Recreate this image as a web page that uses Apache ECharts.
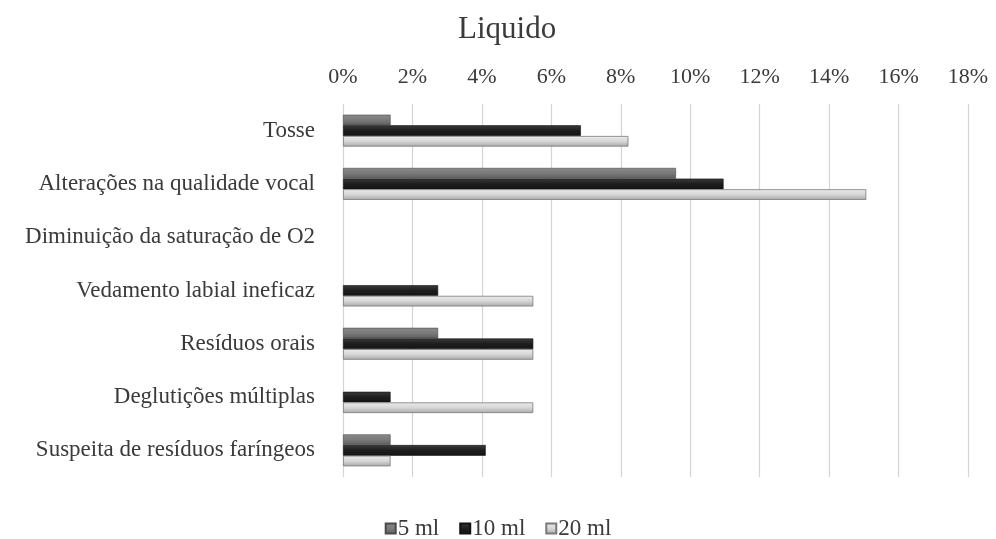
<!DOCTYPE html>
<html>
<head>
<meta charset="utf-8">
<script src="https://cdn.jsdelivr.net/npm/echarts@6/dist/echarts.min.js"></script>
<style>
  html, body { margin: 0; padding: 0; background: #ffffff; }
  #chart { width: 996px; height: 539px; }
</style>
</head>
<body>
<div id="chart"></div>
<script>
// Sinais observados com consistência líquida, por volume ofertado (%)
const categories = [
  'Tosse',
  'Alterações na qualidade vocal',
  'Diminuição da saturação de O2',
  'Vedamento labial ineficaz',
  'Resíduos orais',
  'Deglutições múltiplas',
  'Suspeita de resíduos faríngeos'
];
const seriesNames = ['5 ml', '10 ml', '20 ml'];
const values5ml  = [1.37, 9.59, 0, 0,    2.74, 0,    1.37];
const values10ml = [6.85, 10.96, 0, 2.74, 5.48, 1.37, 4.11];
const values20ml = [8.22, 15.07, 0, 5.48, 5.48, 5.48, 1.37];
const axisMin = 0, axisMax = 18, axisStep = 2;

const FONT = '"Liberation Serif", "Times New Roman", serif';
const TEXT = '#3a3a3a';

function grad(top, mid, bottom) {
  return new echarts.graphic.LinearGradient(0, 0, 0, 1, [
    { offset: 0, color: top },
    { offset: 0.5, color: mid },
    { offset: 1, color: bottom }
  ]);
}

const styles = [
  { color: grad('#8a8a8a', '#7a7a7a', '#5e5e5e'), borderColor: '#4a4a4a', borderWidth: 0.6 },
  { color: grad('#3a3a3a', '#1e1e1e', '#141414'), borderColor: '#111111', borderWidth: 0.6 },
  { color: grad('#ececec', '#d6d6d6', '#a8a8a8'), borderColor: '#7a7a7a', borderWidth: 0.8 }
];

// zero-length bars get no outline so nothing is drawn for them
function toData(arr) {
  return arr.map(v => v === 0 ? { value: 0, itemStyle: { borderWidth: 0 } } : v);
}

const allValues = [values5ml, values10ml, values20ml];

const chart = echarts.init(document.getElementById('chart'), null, { renderer: 'canvas' });
chart.setOption({
  backgroundColor: '#ffffff',
  animation: false,
  title: {
    text: 'Liquido',
    left: 453,
    top: 9,
    textStyle: { fontFamily: FONT, fontSize: 31, fontWeight: 'normal', color: TEXT }
  },
  legend: {
    top: 512,
    left: 'center',
    itemWidth: 10,
    itemHeight: 10,
    itemGap: 20,
    textStyle: { fontFamily: FONT, fontSize: 23, color: TEXT, padding: [0, 0, 0, -3] },
    data: seriesNames.map(n => ({ name: n, icon: 'rect' }))
  },
  grid: { left: 343, right: 28, top: 104, bottom: 62, containLabel: false },
  xAxis: {
    type: 'value',
    position: 'top',
    min: axisMin,
    max: axisMax,
    interval: axisStep,
    axisLine: { show: false },
    axisTick: { show: false },
    axisLabel: {
      formatter: '{value}%',
      fontFamily: FONT,
      fontSize: 22,
      color: TEXT,
      margin: 16
    },
    splitLine: { show: true, lineStyle: { color: '#d4d4d4', width: 1.2 } }
  },
  yAxis: {
    type: 'category',
    data: categories,
    inverse: true,
    axisLine: { show: false },
    axisTick: { show: false },
    axisLabel: { fontFamily: FONT, fontSize: 23, color: TEXT, margin: 28 }
  },
  series: seriesNames.map((name, i) => ({
    name: name,
    type: 'bar',
    data: toData(allValues[i]),
    barGap: '0%',
    barCategoryGap: '40%',
    itemStyle: styles[i]
  }))
});
</script>
</body>
</html>
